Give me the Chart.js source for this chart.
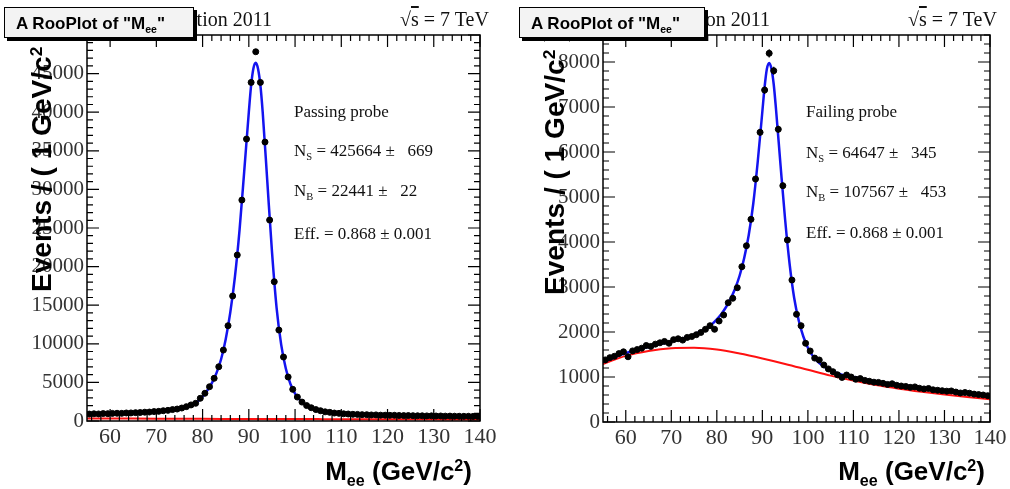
<!DOCTYPE html>
<html>
<head>
<meta charset="utf-8">
<script src="https://cdn.jsdelivr.net/npm/chart.js@4.4.1/dist/chart.umd.min.js"></script>
<style>
  html, body { margin: 0; padding: 0; background: #fff; }
  body { width: 1010px; height: 489px; position: relative; overflow: hidden; }
  canvas { position: absolute; top: 0; }
  .txt { position: absolute; white-space: pre; color: #111; line-height: 1; }
  .serif { font-family: "Liberation Serif", "Times New Roman", serif; }
  .bold { font-family: "Liberation Sans", Arial, sans-serif; font-weight: bold; color: #000; }
  .sb { font-size: 62%; position: relative; top: 0.35em; }
  .sp { font-size: 62%; position: relative; top: -0.55em; }
  .ytitle { transform-origin: 0 0; transform: rotate(-90deg) scale(1.04, 1); font-size: 27px; }
  .xtitle { font-size: 26px; text-align: right; }
  .roo { position: absolute; top: 7px; height: 31px; background: #f3f3f3; border: 1px solid #000;
         box-shadow: 3px 3px 0 #000; font-family: "Liberation Sans", Arial, sans-serif; font-weight: bold;
         font-size: 17px; line-height: 31px; padding-left: 11px; box-sizing: border-box; white-space: pre; }
  .ann { font-size: 17px; }
</style>
</head>
<body>
<canvas id="chart-pass" width="505" height="489" style="left:0"></canvas>
<canvas id="chart-fail" width="505" height="489" style="left:505px"></canvas>

<!-- ROOT style headers -->
<div class="txt serif" style="right:738px; top:9px; font-size:20px;">CMS Simulation 2011</div>
<div class="txt serif" style="left:400px; top:9px; font-size:20px;">√<span style="text-decoration:overline">s</span> = 7 TeV</div>
<div class="txt serif" style="right:240px; top:9px; font-size:20px;">CMS Simulation 2011</div>
<div class="txt serif" style="left:908px; top:9px; font-size:20px;">√<span style="text-decoration:overline">s</span> = 7 TeV</div>

<!-- fit results -->
<div class="txt serif ann" style="left:294px; top:103px;">Passing probe</div>
<div class="txt serif ann" style="left:294px; top:142px;">N<span class="sb">S</span> = 425664 ±   669</div>
<div class="txt serif ann" style="left:294px; top:182px;">N<span class="sb">B</span> = 22441 ±   22</div>
<div class="txt serif ann" style="left:294px; top:225px;">Eff. = 0.868 ± 0.001</div>

<div class="txt serif ann" style="left:806px; top:103px;">Failing probe</div>
<div class="txt serif ann" style="left:806px; top:144px;">N<span class="sb">S</span> = 64647 ±   345</div>
<div class="txt serif ann" style="left:806px; top:183px;">N<span class="sb">B</span> = 107567 ±   453</div>
<div class="txt serif ann" style="left:806px; top:224px;">Eff. = 0.868 ± 0.001</div>

<!-- axis titles -->
<div class="txt bold ytitle" style="left:29px; top:292px;">Events / ( 1 GeV/c<span class="sp">2</span> )</div>
<div class="txt bold ytitle" style="left:542px; top:295px;">Events / ( 1 GeV/c<span class="sp">2</span> )</div>
<div class="txt bold xtitle" style="right:538px; top:458px;">M<span class="sb">ee</span> (GeV/c<span class="sp">2</span>)</div>
<div class="txt bold xtitle" style="right:25px; top:458px;">M<span class="sb">ee</span> (GeV/c<span class="sp">2</span>)</div>

<div class="roo" style="left:4px; width:190px;">A RooPlot of "M<span class="sb">ee</span>"</div>
<div class="roo" style="left:519px; width:186px;">A RooPlot of "M<span class="sb">ee</span>"</div>

<script>
// bin centres (1 GeV bins, 55-140)
const massBins = [55.5, 56.5, 57.5, 58.5, 59.5, 60.5, 61.5, 62.5, 63.5, 64.5,
  65.5, 66.5, 67.5, 68.5, 69.5, 70.5, 71.5, 72.5, 73.5, 74.5,
  75.5, 76.5, 77.5, 78.5, 79.5, 80.5, 81.5, 82.5, 83.5, 84.5,
  85.5, 86.5, 87.5, 88.5, 89.5, 90.5, 91.5, 92.5, 93.5, 94.5,
  95.5, 96.5, 97.5, 98.5, 99.5, 100.5, 101.5, 102.5, 103.5, 104.5,
  105.5, 106.5, 107.5, 108.5, 109.5, 110.5, 111.5, 112.5, 113.5, 114.5,
  115.5, 116.5, 117.5, 118.5, 119.5, 120.5, 121.5, 122.5, 123.5, 124.5,
  125.5, 126.5, 127.5, 128.5, 129.5, 130.5, 131.5, 132.5, 133.5, 134.5,
  135.5, 136.5, 137.5, 138.5, 139.5];

// passing probe events per bin
const passCounts = [900, 935, 915, 960, 950, 985, 1000, 990, 1040, 1045,
  1080, 1095, 1140, 1160, 1220, 1250, 1330, 1380, 1480, 1550,
  1680, 1860, 2080, 2290, 2940, 3590, 4440, 5530, 7030, 9190,
  12340, 16190, 21500, 28620, 36520, 43860, 47830, 43860, 36130, 26030,
  18040, 11780, 8290, 5700, 4100, 3100, 2450, 2000, 1720, 1480,
  1330, 1190, 1120, 1030, 990, 935, 905, 865, 855, 820,
  815, 785, 790, 755, 750, 735, 740, 715, 700, 705,
  685, 680, 670, 660, 665, 645, 650, 630, 635, 620,
  615, 605, 610, 595, 590];

// failing probe events per bin
const failCounts = [1380, 1430, 1460, 1520, 1560, 1450, 1580, 1610, 1640, 1700,
  1680, 1730, 1760, 1790, 1750, 1830, 1850, 1820, 1880, 1900,
  1940, 1990, 2060, 2140, 2060, 2244, 2378, 2651, 2749, 2984,
  3451, 3917, 4504, 5400, 6437, 7377, 8193, 7806, 6504, 5251,
  4044, 3155, 2393, 2140, 1749, 1578, 1420, 1378, 1267, 1180,
  1118, 1050, 990, 1044, 1000, 950, 965, 925, 905, 885,
  880, 860, 835, 850, 815, 800, 790, 770, 780, 750,
  735, 745, 715, 705, 695, 685, 690, 665, 645, 655,
  640, 620, 610, 600, 585];

// total fit curves (signal + background)
const fitMass = [55, 60, 65, 70, 72, 74, 76, 78, 79, 80, 81, 82, 83, 84, 85, 86, 87, 88, 89, 90,
  90.5, 91, 91.5, 92, 92.5, 93, 94, 95, 96, 97, 98, 99, 100, 101, 102, 103, 104, 106, 108, 110,
  115, 120, 125, 130, 135, 140];
const passFit = [890, 960, 1060, 1230, 1370, 1540, 1790, 2200, 2560, 3150, 3950, 4900, 6200, 8000, 10600, 14100, 18700, 24800, 32300, 40000,
  43500, 45700, 46400, 45600, 43500, 40000, 31000, 22000, 14700, 9900, 6800, 4800, 3550, 2750, 2200, 1850, 1600, 1280, 1080, 950,
  810, 740, 690, 650, 615, 590];
const failFit = [1330, 1530, 1670, 1790, 1840, 1900, 1990, 2100, 2180, 2280, 2400, 2550, 2730, 2960, 3250, 3640, 4150, 4850, 5800, 6900,
  7450, 7850, 7980, 7850, 7500, 6950, 5700, 4500, 3500, 2750, 2250, 1900, 1650, 1480, 1360, 1270, 1200, 1100, 1035, 1000,
  900, 830, 765, 705, 645, 590];

// background component
const bgMass = [55, 60, 65, 70, 75, 80, 85, 90, 95, 100, 105, 110, 115, 120, 125, 130, 135, 140];
const passBg = [330, 320, 310, 300, 290, 280, 272, 265, 258, 250, 243, 237, 230, 224, 218, 212, 206, 200];
const failBg = [1290, 1470, 1580, 1640, 1650, 1610, 1520, 1410, 1290, 1160, 1030, 920, 820, 740, 672, 610, 555, 505];

// tick labels
const xTicks = [60, 70, 80, 90, 100, 110, 120, 130, 140];
const passYTicks = [0, 5000, 10000, 15000, 20000, 25000, 30000, 35000, 40000, 45000];
const failYTicks = [0, 1000, 2000, 3000, 4000, 5000, 6000, 7000, 8000];

// ROOT-like frame with inward ticks + error bars on the data points
const rootFrame = {
    id: 'rootFrame',
    afterDatasetsDraw(chart, args, o) {
        const ctx = chart.ctx;
        const a = chart.chartArea;
        const x = chart.scales.x, y = chart.scales.y;
        ctx.save();

        // error bars
        ctx.strokeStyle = '#000';
        ctx.lineWidth = 1.2;
        chart.getDatasetMeta(0).data.forEach((pt, i) => {
            const v = chart.data.datasets[0].data[i].y;
            const e = Math.sqrt(v);
            ctx.beginPath();
            ctx.moveTo(pt.x, y.getPixelForValue(v + e));
            ctx.lineTo(pt.x, y.getPixelForValue(v - e));
            ctx.stroke();
        });

        ctx.lineWidth = 1.5;
        ctx.strokeRect(a.left, a.top, a.right - a.left, a.bottom - a.top);

        ctx.lineWidth = 1.2;
        ctx.beginPath();
        for (let v = 56; v <= 140; v += 2) {
            const px = x.getPixelForValue(v);
            const len = v % 10 === 0 ? 12 : 6;
            ctx.moveTo(px, a.bottom); ctx.lineTo(px, a.bottom - len);
            ctx.moveTo(px, a.top); ctx.lineTo(px, a.top + len);
        }
        for (let v = 0; v <= y.max; v += o.yMinor) {
            const py = y.getPixelForValue(v);
            const len = v % o.yMajor === 0 ? 12 : 6;
            ctx.moveTo(a.left, py); ctx.lineTo(a.left + len, py);
            ctx.moveTo(a.right, py); ctx.lineTo(a.right - len, py);
        }
        ctx.stroke();
        ctx.restore();
    }
};

function drawPanel(canvasId, counts, fit, bg, yTicks, yMax, yMinor, yMajor, axisW, padRight, xAxisH) {
    const ctx = document.getElementById(canvasId);
    return new Chart(ctx, {
        type: 'scatter',
        data: {
            datasets: [
                {
                    data: massBins.map((m, i) => ({ x: m, y: counts[i] })),
                    backgroundColor: '#000',
                    borderColor: '#000',
                    pointRadius: 3,
                    pointHoverRadius: 3,
                    showLine: false
                },
                {
                    data: fitMass.map((m, i) => ({ x: m, y: fit[i] })),
                    showLine: true,
                    pointRadius: 0,
                    borderColor: '#1414f0',
                    borderWidth: 2.5,
                    cubicInterpolationMode: 'monotone'
                },
                {
                    data: bgMass.map((m, i) => ({ x: m, y: bg[i] })),
                    showLine: true,
                    pointRadius: 0,
                    borderColor: '#ff1010',
                    borderWidth: 2,
                    cubicInterpolationMode: 'monotone'
                }
            ]
        },
        options: {
            responsive: false,
            animation: false,
            events: [],
            layout: { padding: { top: 35, right: padRight, bottom: 0, left: 0 } },
            plugins: {
                legend: { display: false },
                tooltip: { enabled: false },
                rootFrame: { yMinor: yMinor, yMajor: yMajor }
            },
            scales: {
                x: {
                    type: 'linear', min: 55, max: 140,
                    grid: { display: false, drawTicks: false },
                    border: { display: false },
                    afterBuildTicks: s => { s.ticks = xTicks.map(v => ({ value: v })); },
                    afterFit: s => { s.height = xAxisH; },
                    ticks: {
                        autoSkip: false, maxRotation: 0, padding: 3, color: '#333',
                        font: { family: 'Liberation Serif', size: 22 },
                        callback: v => String(v)
                    }
                },
                y: {
                    type: 'linear', min: 0, max: yMax,
                    grid: { display: false, drawTicks: false },
                    border: { display: false },
                    afterBuildTicks: s => { s.ticks = yTicks.map(v => ({ value: v })); },
                    afterFit: s => { s.width = axisW; },
                    ticks: {
                        autoSkip: false, padding: 3, color: '#333',
                        font: { family: 'Liberation Serif', size: 21 },
                        callback: v => String(v)
                    }
                }
            }
        },
        plugins: [rootFrame]
    });
}

drawPanel('chart-pass', passCounts, passFit, passBg, passYTicks, 50000, 1000, 5000, 87, 25, 68);
drawPanel('chart-fail', failCounts, failFit, failBg, failYTicks, 8600, 200, 1000, 98, 20, 67);
</script>
</body>
</html>
